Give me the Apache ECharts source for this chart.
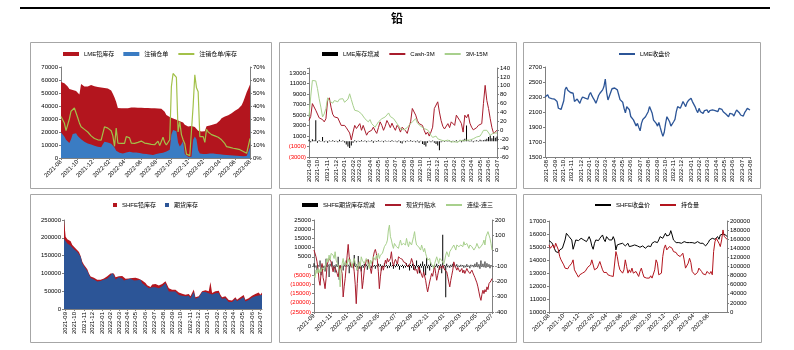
<!DOCTYPE html>
<html>
<head>
<meta charset="utf-8">
<script src="https://cdn.jsdelivr.net/npm/echarts@6/dist/echarts.min.js"></script>
<style>
  html, body { margin: 0; padding: 0; background: #fff; }
  #chart { width: 794px; height: 350px; }
</style>
</head>
<body>
<div id="chart"></div>
<script>
// ---- panel 1: LME stocks / cancelled warrants (2021-08 .. 2023-08)
const lmeStock = [58400,58000,57500,57000,55000,53000,52500,52300,52000,51500,
  50500,48800,57000,55500,55000,55200,55000,54500,56200,56000,
  55200,55000,54700,54400,54200,54000,53900,53700,53400,53100,
  52000,49500,46500,43000,38500,38300,38300,38200,38300,38400,
  38300,38600,38800,38900,38900,38800,38700,38600,38600,38500,
  38500,38400,38400,38300,38300,38200,38300,38200,38100,38000,
  37800,37200,35500,33000,32200,31500,30800,30300,29800,29400,
  29000,28200,27800,27400,25500,24200,24300,24500,24600,24500,
  23800,23500,21000,20300,20300,20300,20500,24500,24800,25000,
  25300,25700,26200,26600,27500,28800,30500,31500,32000,32300,
  32800,33700,34500,35400,36300,36900,37800,39000,40500,43500,
  47000,50500,53500,56500];
const lmeCancelled = [19600,18500,16500,14000,12500,11500,14500,18500,19500,19000,
  17000,15500,14500,13500,12500,11800,11200,10800,10300,9800,
  9500,9000,8600,8300,8200,10500,12500,12400,12000,11800,
  11000,10200,8000,5500,4500,4000,3600,3500,3600,4200,
  4500,4800,4600,4300,4000,4200,4000,3800,3500,3200,
  3100,3000,2800,2600,2400,2300,2600,3000,3500,3700,
  3500,4000,4600,5000,5800,6300,18000,21500,21000,20500,
  12000,8800,10500,13000,3000,1500,1000,900,1000,14000,
  16500,14500,6000,3500,3200,3000,2800,3000,3300,3500,
  3600,3500,3300,3100,3000,2900,2700,2500,2400,2300,
  2200,2100,2000,1900,1800,1700,1600,1500,1400,1300,
  1200,1500,2500,8000];
const lmeRatio = [32,31,27,21,20,30,36,37,38.5,37,
  31,27,24,23,22,21.5,20,18.5,17,16,
  15,14.5,14,14,13.8,14,24,24,23,22.5,
  21,17,9,23,11.5,11.3,11.2,11.2,11.3,16.5,
  16,15.5,11.5,11.5,11.3,11.2,12,13.5,13,12,
  11.5,11,11,10.8,10.5,10.3,10.2,10,13,9.5,
  8.7,16,12,10,9,14,55,65,64,62,
  20,28,18,14,11,3,2,1.8,1.5,40,
  64,54,51,16.5,16.5,16.5,12,22,20,19,
  18,17.8,17,16.5,16,15,14,13,11,8.7,
  8.5,8.2,7.8,7.5,7.2,7,6.8,6.4,6,5,
  3.8,3.6,4,15];

// ---- panel 2: LME stock change / Cash-3M / 3M-15M (2021-09 .. 2023-07)
const lmeChange = [300,-200,400,200,4000,-300,200,-100,800,-200,
  100,-300,150,-100,200,-150,100,-200,300,-100,
  150,-250,-600,-1000,-1300,-800,-300,200,-200,100,
  -150,200,-100,150,-200,100,-100,200,-300,100,
  -150,200,-100,100,-200,150,-100,100,-150,200,
  -100,100,-200,150,-300,-400,100,-200,150,-100,
  200,-150,100,-200,150,-300,100,-500,-700,-1000,
  -300,100,-200,150,-300,-500,-800,-1700,-200,100,
  -150,200,-100,150,-200,100,-150,200,-100,150,
  -200,300,500,3000,200,-100,150,-200,100,200,
  -100,300,150,200,300,500,800,1100,600,1000,
  700,900];
const cash3m = [22,31,60,60,45,43,28,31,24,19,
  26,67,73,52,36,30,34,28,24,11,
  15,11,6,4,-6,-22,-4,11,4,7,
  15,0,11,7,-11,-4,-7,0,7,-1,
  -7,6,19,11,0,9,22,15,6,16,
  7,0,11,6,-4,7,4,-1,-7,7,
  19,49,45,34,22,15,16,11,0,-9,
  -4,-13,-4,7,49,52,64,41,22,9,
  3,7,15,6,19,22,11,34,30,22,
  15,-4,34,28,36,16,7,1,-1,6,
  11,7,15,60,101,67,49,26,6,-7,
  -4,0];
const spread3m15m = [30,75,112,114,111,94,71,52,30,37,
  49,73,66,67,61,67,70,64,70,67,
  71,63,60,70,82,69,56,45,49,43,
  41,37,33,26,22,19,24,15,19,7,
  10,19,15,26,22,30,34,39,31,34,
  26,22,15,11,4,6,1,-1,6,11,
  15,19,22,26,16,15,9,6,4,6,
  1,-4,-11,-16,-15,-13,-19,-21,-22,-21,
  -24,-21,-22,-24,-26,-22,-26,-24,-27,-22,
  -26,-24,-21,-22,-26,-22,-20,-19,-16,-15,
  -11,-13,-7,0,4,0,-4,-11,-9,-6,
  -7,-6];

// ---- panel 3: LME close (2021-08 .. 2023-08)
const lmeClose = [2300,2318,2330,2290,2272,2278,2284,2272,2282,2239,
  2150,2130,2134,2160,2250,2400,2431,2390,2365,2360,
  2362,2350,2240,2255,2272,2284,2216,2265,2300,2306,
  2284,2297,2270,2330,2360,2318,2284,2255,2216,2265,
  2320,2350,2342,2395,2440,2539,2360,2260,2270,2360,
  2410,2420,2420,2445,2395,2330,2265,2284,2230,2150,
  2090,2170,2181,2130,2040,2060,1995,2000,1915,1948,
  1895,1849,1948,2000,2015,2037,2060,2104,2172,2181,
  2082,1992,1970,1948,1912,1960,1894,1830,1775,1830,
  1948,2037,2028,1970,1912,1894,1970,2001,2104,2172,
  2181,2150,2194,2239,2207,2172,2225,2252,2270,2284,
  2239,2216,2172,2127,2091,2149,2104,2127,2082,2118,
  2104,2127,2091,2118,2104,2127,2149,2118,2136,2104,
  2149,2127,2136,2104,2091,2073,2060,2037,2082,2091,
  2073,2046,2091,2127,2149,2091,2060,2073,2046,2091,
  2118,2149,2136,2127];

// ---- panel 4: SHFE stocks (2021-09 .. 2023-07)
const shfeStock = [250000,203000,196000,198000,190000,180000,175000,170000,165000,160000,
  149000,133000,124000,119000,112000,100000,91000,87000,88000,90000,
  82000,81000,82000,83000,86000,88000,92000,95000,100000,105000,
  100000,89000,89000,92000,94000,93000,88000,85000,88000,86000,
  90000,87000,84000,88000,86000,85000,86000,80000,75000,73000,
  67000,63000,62000,69000,72000,70000,68000,66000,71000,70000,
  67000,78000,79000,58000,55000,54000,57000,54000,50000,46000,
  44000,43000,45000,40000,39000,42000,36000,37000,55000,33000,
  33000,36000,39000,50000,53000,53000,52000,50000,76000,45000,
  49000,50000,49000,51000,40000,33000,31000,36000,33000,25000,
  23000,24000,22000,33000,26000,30000,33000,37000,39000,26000,
  26000,30000,35000,37000,39000,42000,47000,46000,40000,46000];
const futuresStock = [197000,197000,184000,182000,178000,173000,168000,164000,160000,157000,
  147000,128000,120000,115000,107000,96000,87000,84000,83000,83000,
  77000,77000,79000,80000,83000,85000,86000,88000,95000,101000,
  95000,83000,86000,89000,89000,86000,80000,80000,83000,82000,
  86000,81000,80000,82000,81000,82000,82000,72000,68000,65000,
  60000,58000,58000,61000,63000,61000,60000,58000,63000,64000,
  61000,72000,68000,49000,49000,49000,53000,49000,44000,39000,
  39000,37000,39000,36000,35000,37000,30000,32000,48000,29000,
  29000,33000,35000,48000,48000,48000,46000,44000,48000,41000,
  43000,44000,44000,45000,35000,29000,26000,30000,28000,20000,
  18000,20000,18000,28000,22000,25000,28000,32000,33000,21000,
  22000,25000,29000,32000,34000,36000,39000,38000,34000,39000];

// ---- panel 5: SHFE futures stock change / spot basis / 1st-3rd spread (2021-09 .. 2023-07)
const shfeChange = [1500,-800,300,-2500,600,-400,3000,-5000,500,-1200,
  200,-3000,4000,-500,800,-6000,1200,-300,2500,-1500,
  400,-3500,1000,-600,5000,-7500,300,-1000,200,-2500,
  1500,-400,3000,-300,700,-4000,2000,-800,300,-1200,
  6000,-500,1000,-2500,5500,-1500,400,-3000,600,-900,
  1200,-300,800,-2000,3500,-600,200,-1200,2500,-400,
  600,-1500,400,-700,1200,-300,900,-2500,300,-600,
  1500,-400,700,-1200,300,-900,2000,-300,600,-1500,
  400,-700,1200,-300,900,-2000,300,-500,700,-1200,
  300,-800,1500,-400,700,-2500,500,-900,1200,-2000,
  600,-1500,3000,-700,500,-4000,1200,-900,2500,-3500,
  900,-5000,4500,-1200,700,-2500,2000,-600,300,-1500,
  700,-500,1200,-900,500,-2000,1000,-4000,17000,-1200,
  500,-17000,1200,-700,300,-900,700,-500,1200,-700,
  400,-300,900,-700,300,-500,700,-300,500,-900,
  300,-700,900,-500,300,-1200,700,-300,500,-700,
  1200,-500,2000,-700,900,-1500,3000,-500,1200,-700,
  2500,-900,1500,-500,900,-1200,500,-300];
const spotBasis = [4,-7,-40,-73,-116,-193,-226,-149,-84,-175,
  -204,-248,-182,-95,-84,-51,-40,-73,-110,-138,
  -105,-101,-127,-149,-171,-127,-95,-84,-149,-302,
  -236,-182,-171,-29,41,-40,-73,-105,-116,-84,
  -138,-219,-346,-215,-105,-73,-88,-138,-248,-193,
  -127,-95,-62,-51,-62,-73,-116,-149,-101,-40,
  -7,8,-18,-62,-138,-248,-171,-116,-101,-127,
  -95,-62,-84,-51,-73,-62,-51,-7,-73,-101,
  -73,-57,-73,-88,-40,-29,-51,-40,-57,-73,
  -62,-79,-95,-84,-105,-95,-79,-51,-62,-95,
  -127,-138,-123,-149,-105,-95,-138,-160,-175,-138,
  -149,-193,-236,-269,-236,-204,-175,-149,-167,-127,
  -105,-149,-193,-160,-127,-101,-105,-116,-95,-110,
  -127,-116,-138,-171,-204,-236,-193,-160,-127,-73,
  -95,-105,-127,-110,-123,-138,-127,-116,-145,-127,
  -149,-138,-116,-132,-123,-149,-138,-127,-145,-160,
  -175,-188,-210,-236,-269,-302,-324,-285,-258,-280,
  -254,-269,-236,-254,-215,-219,-197,-182];
const spread1to3 = [-160,-175,-127,-149,-116,-145,-123,-138,-110,-101,
  -127,-116,-84,-51,-73,-29,-62,-18,-7,-29,
  -51,-7,-62,-73,-95,-127,-236,-127,-84,-51,
  -95,-73,-62,-95,-51,-73,-57,-84,-105,-73,
  -51,-79,-95,-127,-138,-73,-105,-40,-62,-73,
  -84,-66,-51,-62,-84,-116,-62,-84,-73,-40,
  -51,-62,-29,-51,-18,-51,-29,-40,-18,-7,
  26,15,47,69,135,167,91,69,37,15,
  47,58,26,37,15,47,69,37,26,47,
  58,37,80,47,26,58,69,37,47,91,
  124,69,37,47,26,15,4,37,15,-7,
  15,-18,-40,-62,-73,-51,-84,-73,-95,-116,
  -84,-73,-40,-62,-84,-51,-40,-62,-73,-88,
  -62,-29,-7,-18,-40,-7,-18,15,4,37,
  26,4,37,47,26,15,37,47,26,58,
  37,26,47,37,15,37,47,26,37,4,
  15,26,47,37,15,4,26,15,47,69,
  37,91,102,124,113,80,47,4];

// ---- panel 6: SHFE close / open interest (2021-08 .. 2023-08)
const shfeClose = [15491,15414,15338,15159,14903,14647,14519,14570,14775,14826,
  14903,14775,15542,16054,16003,15798,15747,15542,14826,15159,
  15542,15670,15491,15414,15670,15593,15542,15670,15414,15593,
  15798,15542,15082,14826,15286,15542,15593,15491,15670,15798,
  15926,15593,15414,15798,15670,15542,15593,15542,15798,15542,
  14775,15159,15082,15235,15159,15286,15159,15082,15235,15286,
  15031,14903,15082,15235,15159,15031,15082,15235,14980,14903,
  15082,14980,14903,15031,15082,14980,15031,15286,15338,15414,
  15286,15338,15542,15798,15926,15670,15798,16054,15850,15798,
  15926,16258,15926,15542,15414,15338,15286,15338,15414,15286,
  15338,15414,15286,15338,15414,15338,15235,15338,15414,15286,
  15338,15414,15338,15286,15338,15286,15235,15082,15159,15338,
  15542,15593,15670,15542,15593,15670,15798,15593,15926,15798,
  16003,15850,15926,15798];
const openInterest = [147400,140100,136500,147400,140100,151100,154700,136500,121900,114600,
  110900,103600,96400,94200,94900,100000,103600,107300,114600,92700,
  96400,81800,76600,81800,79600,85400,81800,89100,92700,98500,
  96400,103600,114600,110900,92700,89100,96400,103600,110900,101500,
  92700,86900,83900,86900,81800,85400,79600,81800,78100,81800,
  132800,121900,103600,92700,89100,85400,92700,114600,100000,85400,
  92700,86900,96400,85400,81800,89100,85400,78100,89100,96400,
  85400,76600,79600,74500,76600,74500,79600,74500,78100,92700,
  114600,107300,81800,78100,85400,121900,140100,147400,136500,132800,
  143800,147400,140100,132800,129200,130700,125500,129200,121900,125500,
  129200,114600,96400,92700,107300,118200,108800,89100,85400,81800,
  85400,86900,96400,92700,89100,83900,85400,81800,89100,85400,
  83900,89100,81800,132800,154700,162000,158400,151100,143800,158400,
  180300,165700,162000,159900];

const FONT = "'Liberation Sans', 'Noto Sans CJK SC', sans-serif";
const FS = 6;
const AX = '#808080';
const RED = '#B3151E';
const BLUE = '#3A7CC3';
const NAVY = '#2C5597';
const OLIVE = '#A3C14A';
const LGREEN = '#A8D08D';
const DRED = '#A81C2C';

function makeDates(start, end, n) {
  const t0 = Date.parse(start + 'T00:00:00Z');
  const t1 = Date.parse(end + 'T00:00:00Z');
  const out = [];
  for (let i = 0; i < n; i++) {
    out.push(new Date(t0 + (t1 - t0) * i / (n - 1)).toISOString().slice(0, 10));
  }
  return out;
}

// first point of every `step`-th month between from and to gets a label
function labelSet(dates, from, to, step) {
  const key = s => +s.slice(0, 4) * 12 + (+s.slice(5, 7) - 1);
  const k0 = key(from), k1 = key(to);
  const set = new Set();
  let prev = null;
  dates.forEach((d, i) => {
    const k = key(d);
    if (k !== prev && k >= k0 && k <= k1 && (k - k0) % step === 0) set.add(i);
    prev = k;
  });
  return set;
}

function xAxis(grid, dates, from, to, step, rotate) {
  const set = labelSet(dates, from, to, step);
  const show = i => set.has(i);
  return {
    type: 'category', gridIndex: grid, data: dates, boundaryGap: false,
    axisLine: { onZero: false, lineStyle: { color: AX } },
    axisTick: { interval: show, length: 2, lineStyle: { color: AX } },
    axisLabel: { interval: show, rotate: rotate, fontSize: FS, fontFamily: FONT, color: '#000',
      margin: 3, formatter: v => v.slice(0, 7) },
    splitLine: { show: false }
  };
}

function vAxis(grid, pos, min, max, interval, fmt, color) {
  return {
    type: 'value', gridIndex: grid, position: pos, min: min, max: max, interval: interval,
    axisLine: { show: true, lineStyle: { color: AX } },
    axisTick: { show: true, length: 2, lineStyle: { color: AX } },
    axisLabel: { fontSize: FS, fontFamily: FONT, color: color || '#000', margin: 3, formatter: fmt || (v => String(v)) },
    splitLine: { show: false }
  };
}

function hiddenAxis(grid, min, max) {
  return { type: 'value', gridIndex: grid, min: min, max: max, show: false, splitLine: { show: false } };
}

const paren = v => (v < 0 ? '(' + (-v) + ')' : String(v));
const redNeg = v => (+v < 0 ? '#FF0000' : '#000');

function line(name, x, y, data, color, width) {
  return { type: 'line', name: name, xAxisIndex: x, yAxisIndex: y, data: data, symbol: 'none',
    color: color, lineStyle: { color: color, width: width || 1 } };
}
function area(name, x, y, data, color) {
  return { type: 'line', name: name, xAxisIndex: x, yAxisIndex: y, data: data, symbol: 'none',
    color: color, lineStyle: { width: 0 }, areaStyle: { color: color, opacity: 1 } };
}
function bars(name, x, y, data) {
  return { type: 'bar', name: name, xAxisIndex: x, yAxisIndex: y, data: data, barWidth: 1,
    color: '#000', itemStyle: { color: '#000' } };
}
// legend entries: filled box for areas/bars, bare line for lines
const box = name => ({ name: name, icon: 'rect' });
const ln = name => ({ name: name, itemStyle: { opacity: 0 } });
function legend(left, top, data, w, h) {
  return { left: left, top: top, padding: 0, itemGap: 9, itemWidth: w || 16, itemHeight: h || 4,
    selectedMode: false, data: data, textStyle: { fontSize: FS, fontFamily: FONT, color: '#000' } };
}

const d1 = makeDates('2021-08-01', '2023-08-01', lmeStock.length);
const d2 = makeDates('2021-09-01', '2023-07-04', lmeChange.length);
const d3 = makeDates('2021-07-29', '2023-08-03', lmeClose.length);
const d4 = makeDates('2021-08-28', '2023-07-10', shfeStock.length);
const d5 = makeDates('2021-09-01', '2023-07-03', shfeChange.length);
const d6 = makeDates('2021-08-01', '2023-08-25', shfeClose.length);

const chart = echarts.init(document.getElementById('chart'));
chart.setOption({
  animation: false,
  backgroundColor: '#fff',
  title: { text: '铅', left: 'center', top: 12, padding: 0,
    textStyle: { fontSize: 12, fontWeight: 'bold', fontFamily: "'Noto Sans CJK SC'", color: '#000' } },
  graphic: [
    { type: 'line', shape: { x1: 20, y1: 8, x2: 770, y2: 8 }, style: { stroke: '#000', lineWidth: 2 } },
    { type: 'rect', shape: { x: 30.5, y: 42.5, width: 241, height: 146 }, style: { fill: 'none', stroke: '#A6A6A6', lineWidth: 1 } },
    { type: 'rect', shape: { x: 279.5, y: 42.5, width: 237, height: 146 }, style: { fill: 'none', stroke: '#A6A6A6', lineWidth: 1 } },
    { type: 'rect', shape: { x: 523.5, y: 42.5, width: 237, height: 146 }, style: { fill: 'none', stroke: '#A6A6A6', lineWidth: 1 } },
    { type: 'rect', shape: { x: 30.5, y: 194.5, width: 241, height: 148 }, style: { fill: 'none', stroke: '#A6A6A6', lineWidth: 1 } },
    { type: 'rect', shape: { x: 279.5, y: 194.5, width: 237, height: 148 }, style: { fill: 'none', stroke: '#A6A6A6', lineWidth: 1 } },
    { type: 'rect', shape: { x: 523.5, y: 194.5, width: 238, height: 148 }, style: { fill: 'none', stroke: '#A6A6A6', lineWidth: 1 } }
  ],
  legend: [
    legend(63, 51, [box('LME铅库存'), box('注销仓单'), ln('注销仓单/库存')]),
    legend(322, 51, [box('LME库存增减'), ln('Cash-3M'), ln('3M-15M')]),
    legend(618, 51, [ln('LME收盘价')]),
    legend(113, 202, [box('SHFE铅库存'), box('期货库存')], 4, 4),
    legend(302, 202, [box('SHFE期货库存增减'), ln('现货升贴水'), ln('连续-连三')]),
    legend(594, 202, [ln('SHFE收盘价'), ln('持仓量')])
  ],
  grid: [
    { left: 61, top: 67, width: 189, height: 91 },
    { left: 309, top: 68, width: 188, height: 89 },
    { left: 545, top: 67, width: 205, height: 90 },
    { left: 64, top: 220, width: 198, height: 89 },
    { left: 314, top: 220, width: 178, height: 92 },
    { left: 549, top: 221, width: 178, height: 91 }
  ],
  xAxis: [
    xAxis(0, d1, '2021-08', '2023-08', 2, 45),
    xAxis(1, d2, '2021-09', '2023-07', 1, 90),
    xAxis(2, d3, '2021-08', '2023-08', 1, 90),
    xAxis(3, d4, '2021-09', '2023-07', 1, 90),
    xAxis(4, d5, '2021-09', '2023-07', 2, 45),
    xAxis(5, d6, '2021-08', '2023-06', 2, 45)
  ],
  yAxis: [
    vAxis(0, 'left', 0, 70000, 10000),                               // 0
    vAxis(0, 'right', 0, 70, 10, v => v + '%'),                        // 1
    vAxis(1, 'left', 0, 17000, 2000,                                   // 2 (label = value - 3000)
      v => (v > 16000 ? '' : paren(v - 3000)), v => (+v - 3000 < 0 ? '#FF0000' : '#000')),
    hiddenAxis(1, -3000, 14000),                                        // 3
    vAxis(1, 'right', -60, 140, 20),                                   // 4
    vAxis(2, 'left', 0, 1200, 200, v => String(v + 1500)),             // 5 (label = value + 1500)
    hiddenAxis(2, 1500, 2700),                                          // 6
    vAxis(3, 'left', 0, 250000, 50000),                                // 7
    vAxis(4, 'left', -25000, 25000, 5000, paren, redNeg),              // 8
    vAxis(4, 'right', -400, 200, 100),                                 // 9
    vAxis(5, 'left', 10000, 17000, 1000),                              // 10
    vAxis(5, 'right', 0, 200000, 20000)                                // 11
  ],
  series: [
    area('LME铅库存', 0, 0, lmeStock, RED),
    area('注销仓单', 0, 0, lmeCancelled, BLUE),
    line('注销仓单/库存', 0, 1, lmeRatio, OLIVE, 1.2),

    bars('LME库存增减', 1, 3, lmeChange),
    line('Cash-3M', 1, 4, cash3m, DRED),
    line('3M-15M', 1, 4, spread3m15m, LGREEN),

    line('LME收盘价', 2, 6, lmeClose, NAVY, 1.3),

    area('SHFE铅库存', 3, 7, shfeStock, RED),
    area('期货库存', 3, 7, futuresStock, NAVY),

    bars('SHFE期货库存增减', 4, 8, shfeChange),
    line('现货升贴水', 4, 9, spotBasis, DRED),
    line('连续-连三', 4, 9, spread1to3, LGREEN),

    line('SHFE收盘价', 5, 10, shfeClose, '#000'),
    line('持仓量', 5, 11, openInterest, RED)
  ]
});
</script>
</body>
</html>
